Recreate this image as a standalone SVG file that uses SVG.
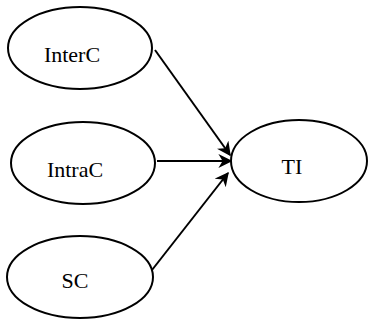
<svg xmlns="http://www.w3.org/2000/svg" width="370" height="321" viewBox="0 0 370 321">
<style>
.n ellipse{fill:#fff;stroke:#000;stroke-width:2}
.n text{font-family:"Liberation Serif",serif;font-size:22px;fill:#000;text-anchor:middle}
.e line{stroke:#000;stroke-width:2;marker-end:url(#a)}
</style>
<defs>
<marker id="a" viewBox="0 0 10 10" refX="9" refY="5" markerWidth="7" markerHeight="7" markerUnits="strokeWidth" orient="auto">
<path d="M0,0 L10,5 L0,10 L3,5 z" fill="#000"/>
</marker>
</defs>
<rect width="370" height="321" fill="#fff"/>
<g class="e">
<line x1="155" y1="50" x2="230" y2="155"/>
<line x1="157" y1="161" x2="231" y2="161"/>
<line x1="152" y1="270" x2="228" y2="173"/>
</g>
<g id="InterC" class="n"><ellipse cx="80" cy="48" rx="72" ry="41"/><text x="72" y="62">InterC</text></g>
<g id="IntraC" class="n"><ellipse cx="83" cy="163" rx="72" ry="41"/><text x="75" y="177">IntraC</text></g>
<g id="SC" class="n"><ellipse cx="80" cy="277" rx="73" ry="41"/><text x="75" y="288">SC</text></g>
<g id="TI" class="n"><ellipse cx="299" cy="161" rx="68" ry="41"/><text x="292" y="174">TI</text></g>
</svg>
